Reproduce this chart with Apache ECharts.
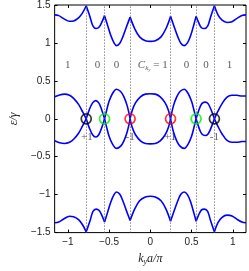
<!DOCTYPE html>
<html><head><meta charset="utf-8">
<script src="https://cdn.jsdelivr.net/npm/echarts@6/dist/echarts.min.js"></script>
<style>html,body{margin:0;padding:0;background:#fff}#c{width:249px;height:271px}</style>
</head><body><div id="c"></div>
<script>
// crossing points (dotted lines), k_y a / pi
const crossK = [-0.777, -0.555, -0.245, 0.245, 0.555, 0.777];
// circles at the crossings
const blackK = [-0.777, 0.777];
const greenK = [-0.555, 0.555];
const redK = [-0.245, 0.245];
// Chern number labels under circles
const chernK = [-0.77, -0.245, 0.24, 0.777];
const chernText = ['+1', '-1', '+1', '-1'];
const chernY = -0.235;
// region labels
const regionK = [-1.0, -0.64, -0.41, 0.03, 0.44, 0.675, 0.96];
const regionText = ['1', '0', '0', 'C', '0', '0', '1'];
const regionY = 0.71;
// tick labels
const xTicks = [-1, -0.5, 0, 0.5, 1];

// band 1 (top), segments between cusps: [k, energy]
const band1 = [
  [[-1.16,1.37],[-1.11,1.36],[-1.05,1.32],[-0.98,1.285],[-0.93,1.29],[-0.87,1.33],[-0.82,1.40],[-0.777,1.49]],
  [[-0.777,1.49],[-0.73,1.34],[-0.695,1.22],[-0.657,1.19],[-0.62,1.21],[-0.585,1.28],[-0.555,1.36]],
  [[-0.555,1.36],[-0.52,1.24],[-0.48,1.10],[-0.44,1.00],[-0.41,0.965],[-0.37,0.995],[-0.33,1.09],[-0.29,1.21],[-0.245,1.34]],
  [[-0.245,1.34],[-0.19,1.19],[-0.13,1.08],[-0.06,1.03],[0,1.02],[0.06,1.03],[0.13,1.08],[0.19,1.19],[0.245,1.35]],
  [[0.245,1.35],[0.29,1.21],[0.33,1.09],[0.37,0.995],[0.41,0.965],[0.45,1.00],[0.49,1.10],[0.53,1.25],[0.555,1.35]],
  [[0.555,1.35],[0.585,1.27],[0.62,1.20],[0.657,1.19],[0.695,1.22],[0.73,1.34],[0.777,1.49]],
  [[0.777,1.49],[0.82,1.37],[0.87,1.30],[0.93,1.27],[0.99,1.28],[1.06,1.33],[1.11,1.36],[1.16,1.37]]
];
// band 2 (upper middle)
const band2 = [
  [[-1.16,0.29],[-1.10,0.315],[-1.04,0.325],[-0.98,0.31],[-0.93,0.27],[-0.87,0.19],[-0.82,0.09],[-0.777,0]],
  [[-0.777,0],[-0.74,0.12],[-0.70,0.21],[-0.662,0.24],[-0.625,0.21],[-0.59,0.12],[-0.555,0]],
  [[-0.555,0],[-0.53,0.11],[-0.50,0.23],[-0.46,0.33],[-0.41,0.39],[-0.36,0.36],[-0.32,0.29],[-0.28,0.17],[-0.245,0]],
  [[-0.245,0],[-0.22,0.11],[-0.18,0.21],[-0.12,0.29],[-0.06,0.325],[0,0.33],[0.06,0.325],[0.12,0.29],[0.18,0.21],[0.22,0.11],[0.245,0]],
  [[0.245,0],[0.28,0.17],[0.32,0.29],[0.36,0.36],[0.41,0.39],[0.46,0.33],[0.50,0.23],[0.53,0.11],[0.555,0]],
  [[0.555,0],[0.59,0.12],[0.625,0.20],[0.665,0.22],[0.70,0.20],[0.74,0.11],[0.777,0]],
  [[0.777,0],[0.82,0.10],[0.87,0.20],[0.93,0.285],[0.99,0.31],[1.05,0.31],[1.11,0.30],[1.16,0.30]]
];
// band 3 (lower middle)
const band3 = [
  [[-1.16,-0.29],[-1.10,-0.315],[-1.04,-0.325],[-0.98,-0.31],[-0.93,-0.27],[-0.87,-0.19],[-0.82,-0.09],[-0.777,0]],
  [[-0.777,0],[-0.74,-0.12],[-0.70,-0.21],[-0.662,-0.24],[-0.625,-0.21],[-0.59,-0.12],[-0.555,0]],
  [[-0.555,0],[-0.53,-0.11],[-0.50,-0.23],[-0.46,-0.33],[-0.41,-0.39],[-0.36,-0.36],[-0.32,-0.29],[-0.28,-0.17],[-0.245,0]],
  [[-0.245,0],[-0.22,-0.11],[-0.18,-0.21],[-0.12,-0.29],[-0.06,-0.325],[0,-0.33],[0.06,-0.325],[0.12,-0.29],[0.18,-0.21],[0.22,-0.11],[0.245,0]],
  [[0.245,0],[0.28,-0.17],[0.32,-0.29],[0.36,-0.36],[0.41,-0.39],[0.46,-0.33],[0.50,-0.23],[0.53,-0.11],[0.555,0]],
  [[0.555,0],[0.59,-0.12],[0.625,-0.20],[0.665,-0.22],[0.70,-0.20],[0.74,-0.11],[0.777,0]],
  [[0.777,0],[0.82,-0.10],[0.87,-0.20],[0.93,-0.285],[0.99,-0.31],[1.05,-0.31],[1.11,-0.30],[1.16,-0.30]]
];
// band 4 (bottom)
const band4 = [
  [[-1.16,-1.37],[-1.11,-1.36],[-1.05,-1.32],[-0.98,-1.285],[-0.93,-1.29],[-0.87,-1.33],[-0.82,-1.40],[-0.777,-1.49]],
  [[-0.777,-1.49],[-0.73,-1.34],[-0.695,-1.22],[-0.657,-1.19],[-0.62,-1.21],[-0.585,-1.28],[-0.555,-1.36]],
  [[-0.555,-1.36],[-0.52,-1.24],[-0.48,-1.10],[-0.44,-1.00],[-0.41,-0.965],[-0.37,-0.995],[-0.33,-1.09],[-0.29,-1.21],[-0.245,-1.34]],
  [[-0.245,-1.34],[-0.19,-1.19],[-0.13,-1.08],[-0.06,-1.03],[0,-1.02],[0.06,-1.03],[0.13,-1.08],[0.19,-1.19],[0.245,-1.35]],
  [[0.245,-1.35],[0.29,-1.21],[0.33,-1.09],[0.37,-0.995],[0.41,-0.965],[0.45,-1.00],[0.49,-1.10],[0.53,-1.25],[0.555,-1.35]],
  [[0.555,-1.35],[0.585,-1.27],[0.62,-1.20],[0.657,-1.19],[0.695,-1.22],[0.73,-1.34],[0.777,-1.49]],
  [[0.777,-1.49],[0.82,-1.37],[0.87,-1.30],[0.93,-1.27],[0.99,-1.28],[1.06,-1.33],[1.11,-1.36],[1.16,-1.37]]
];

const chart = echarts.init(document.getElementById('c'));
const series = [];
[band1, band2, band3, band4].forEach(band => {
  band.forEach(seg => {
    series.push({
      type: 'line', data: seg, smooth: 0.35, showSymbol: false, silent: true,
      lineStyle: {color: '#0000ff', width: 1.6}, z: 3
    });
  });
});
// dotted lines
series.push({
  type: 'line', data: [], silent: true,
  markLine: {
    silent: true, symbol: ['none', 'none'], label: {show: false},
    lineStyle: {type: [1, 2], color: '#555', width: 1},
    data: crossK.map(k => ({xAxis: k}))
  }
});
function circles(ks, col) {
  return {
    type: 'scatter', data: ks.map(k => [k, 0]), symbol: 'circle', symbolSize: 10, z: 5, silent: true,
    itemStyle: {color: 'rgba(0,0,0,0)', borderColor: col, borderWidth: 1.7}
  };
}
series.push(circles(blackK, '#000000'));
series.push(circles(greenK, '#00ee00'));
series.push(circles(redK, '#ff0000'));
series.push({
  type: 'scatter', data: chernK.map((k, i) => ({value: [k, chernY], name: chernText[i]})),
  symbolSize: 1, silent: true, z: 6,
  itemStyle: {color: 'rgba(0,0,0,0)'},
  label: {show: true, position: 'inside', formatter: '{b}', color: '#333',
    fontFamily: 'Liberation Serif', fontSize: 11}
});
series.push({
  type: 'scatter', data: regionK.map((k, i) => ({value: [k, regionY], name: regionText[i]})),
  symbolSize: 1, silent: true, z: 6,
  itemStyle: {color: 'rgba(0,0,0,0)'},
  label: {show: true, position: 'inside', color: '#333', fontFamily: 'Liberation Serif', fontSize: 11,
    formatter: p => p.name === 'C' ? '{i|C}{s|k}{ss|y}{n| = 1}' : p.name,
    rich: {
      i: {fontFamily: 'Liberation Serif', fontStyle: 'italic', fontSize: 11, color: '#333'},
      s: {fontFamily: 'Liberation Serif', fontStyle: 'italic', fontSize: 7, color: '#333', verticalAlign: 'bottom', padding: [6, 0, 0, 0]},
      ss: {fontFamily: 'Liberation Serif', fontStyle: 'italic', fontSize: 5, color: '#333', verticalAlign: 'bottom', padding: [9, 0, 0, 0]},
      n: {fontFamily: 'Liberation Serif', fontSize: 11, color: '#333'}
    }}
});

const tickFont = {fontFamily: 'Liberation Sans', fontSize: 10, color: '#222'};
const minus = v => String(v).replace('-', '\u2212');
chart.setOption({
  animation: false,
  grid: {left: 36, right: 3, top: 5, bottom: 31, show: true, borderColor: '#000', borderWidth: 1},
  xAxis: [{
    type: 'value', min: -1.16, max: 1.16, position: 'bottom',
    axisLine: {show: false, onZero: false}, splitLine: {show: false},
    axisTick: {show: true, inside: true, length: 3, lineStyle: {color: '#000'}, customValues: xTicks},
    axisLabel: Object.assign({show: true, margin: 5, customValues: xTicks, formatter: minus}, tickFont),
    name: '{i|k}{s|y}{i|a/π}', nameLocation: 'middle', nameGap: 18,
    nameTextStyle: {rich: {
      i: {fontFamily: 'Liberation Serif', fontStyle: 'italic', fontSize: 12, color: '#222'},
      s: {fontFamily: 'Liberation Serif', fontStyle: 'italic', fontSize: 8, color: '#222', verticalAlign: 'bottom', padding: [7, 0, 0, 0]}
    }}
  }, {
    type: 'value', min: -1.16, max: 1.16, position: 'top',
    axisLine: {show: false, onZero: false}, splitLine: {show: false},
    axisTick: {show: true, inside: true, length: 3, lineStyle: {color: '#000'}, customValues: xTicks},
    axisLabel: {show: false}
  }],
  yAxis: [{
    type: 'value', min: -1.5, max: 1.5, interval: 0.5, position: 'left',
    axisLine: {show: false, onZero: false}, splitLine: {show: false},
    axisTick: {show: true, inside: true, length: 3, lineStyle: {color: '#000'}},
    axisLabel: Object.assign({show: true, margin: 4, formatter: minus}, tickFont),
    name: 'ε/γ', nameLocation: 'middle', nameGap: 24, nameRotate: 90,
    nameTextStyle: {fontFamily: 'Liberation Serif', fontStyle: 'italic', fontSize: 12, color: '#222'}
  }, {
    type: 'value', min: -1.5, max: 1.5, interval: 0.5, position: 'right',
    axisLine: {show: false, onZero: false}, splitLine: {show: false},
    axisTick: {show: true, inside: true, length: 3, lineStyle: {color: '#000'}},
    axisLabel: {show: false}
  }],
  series: series
});
</script></body></html>
